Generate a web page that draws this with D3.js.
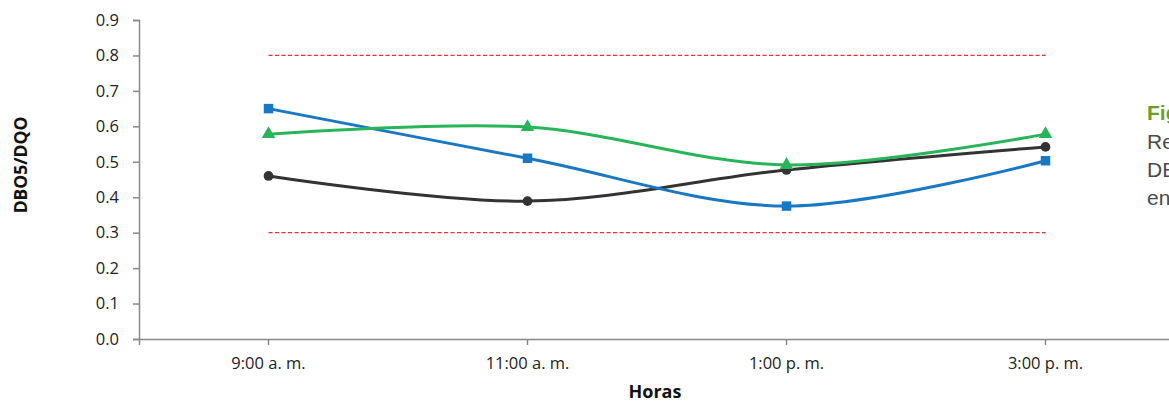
<!DOCTYPE html>
<html><head><meta charset="utf-8">
<script src="https://cdn.jsdelivr.net/npm/d3@7"></script>
<style>
html,body{margin:0;padding:0;background:#fff;overflow:hidden;}
svg{display:block;}
</style></head>
<body>
<svg id="chart" width="1169" height="403"></svg>
<script>
const categories = ["9:00 a. m.", "11:00 a. m.", "1:00 p. m.", "3:00 p. m."];
const seriesBlue  = [0.65, 0.51, 0.375, 0.503];
const seriesGreen = [0.578, 0.598, 0.491, 0.578];
const seriesBlack = [0.46, 0.389, 0.477, 0.542];
const limitUpper = [0.8, 0.8, 0.8, 0.8];
const limitLower = [0.3, 0.3, 0.3, 0.3];
const yTicks = [0, 0.1, 0.2, 0.3, 0.4, 0.5, 0.6, 0.7, 0.8, 0.9];
const sideLines = ["Figura 5.", "Relación", "DBO5/DQO", "en el"];

const svg = d3.select("#chart");
const mLeft = 139, mRight = 1175, mTop = 20, mBottom = 339;
const font = "'Open Sans', sans-serif";

const x = d3.scaleBand().domain(categories).range([mLeft, mRight]).padding(0);
const cx = d => x(d) + x.bandwidth() / 2;
const y = d3.scaleLinear().domain([0, 0.9]).range([mBottom, mTop]);

// Y axis
const yAxis = svg.append("g").attr("transform", `translate(${mLeft},0)`)
  .call(d3.axisLeft(y).tickValues(yTicks).tickFormat(d3.format(".1f")).tickSize(6).tickPadding(14));
yAxis.select(".domain").attr("stroke", "#888").attr("stroke-width", 1.5);
yAxis.selectAll(".tick line").attr("stroke", "#888").attr("stroke-width", 1.5);
yAxis.selectAll("text").attr("font-family", font).attr("font-size", 16.5).attr("fill", "#222");

// X axis
const xAxis = svg.append("g").attr("transform", `translate(0,${mBottom})`)
  .call(d3.axisBottom(x).tickSizeOuter(0).tickSize(6).tickPadding(12));
xAxis.select(".domain").attr("stroke", "#888").attr("stroke-width", 1.5);
xAxis.selectAll(".tick line").attr("stroke", "#888").attr("stroke-width", 1.5);
xAxis.selectAll("text").attr("font-family", font).attr("font-size", 16.5).attr("fill", "#222");

// Axis titles
svg.append("text").attr("x", 655).attr("y", 398).attr("text-anchor", "middle")
  .attr("font-family", font).attr("font-weight", "bold").attr("font-size", 18).attr("fill", "#111").text("Horas");
svg.append("text").attr("transform", "translate(27,165) rotate(-90)").attr("text-anchor", "middle")
  .attr("font-family", font).attr("font-weight", "bold").attr("font-size", 17.5).attr("fill", "#111").text("DBO5/DQO");

// Limit lines
[limitUpper, limitLower].forEach(arr => {
  svg.append("path").datum(arr)
    .attr("d", d3.line().x((d, i) => cx(categories[i])).y(d => y(d)))
    .attr("fill", "none").attr("stroke", "#ff2a2a").attr("stroke-width", 1.3).attr("stroke-dasharray", "4,2.5");
});

const curve = d3.line().x((d, i) => cx(categories[i])).y(d => y(d)).curve(d3.curveCatmullRom.alpha(0));

const series = [
  {vals: seriesBlack, color: "#333333", marker: "circle"},
  {vals: seriesBlue, color: "#1878c4", marker: "square"},
  {vals: seriesGreen, color: "#2ab45a", marker: "triangle"}
];

series.forEach(s => {
  svg.append("path").datum(s.vals).attr("d", curve)
    .attr("fill", "none").attr("stroke", s.color).attr("stroke-width", 3);
});
series.forEach(s => {
  const sym = s.marker === "circle" ? d3.symbolCircle : s.marker === "square" ? d3.symbolSquare : d3.symbolTriangle;
  const size = s.marker === "circle" ? 75 : s.marker === "square" ? 90 : 80;
  svg.append("g").selectAll("path").data(s.vals).join("path")
    .attr("transform", (d, i) => `translate(${cx(categories[i])},${y(d)})`)
    .attr("d", d3.symbol().type(sym).size(size))
    .attr("fill", s.color);
});

// Side caption (clipped by the window, as in the reference)
const baselines = [120, 149, 177, 205];
sideLines.forEach((t, i) => {
  svg.append("text").attr("x", 1147).attr("y", baselines[i])
    .attr("font-family", "'Liberation Sans', Arial, sans-serif")
    .attr("font-size", 21)
    .attr("font-weight", i === 0 ? "bold" : "normal")
    .attr("fill", i === 0 ? "#6a9e2c" : "#4a4a4a").text(t);
});
</script>
</body></html>
